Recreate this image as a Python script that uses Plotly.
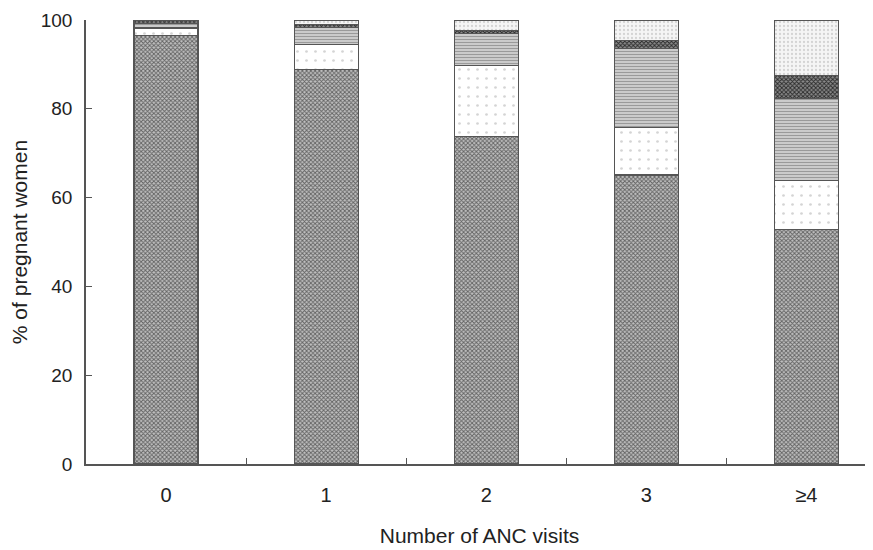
import plotly.graph_objects as go

categories = ["0", "1", "2", "3", "≥4"]

# stacked segments, bottom to top (% of pregnant women)
seg1 = [96.6, 88.9, 73.7, 65.1, 52.9]
seg2 = [1.6, 5.6, 16.0, 10.6, 10.9]
seg3 = [1.1, 3.9, 7.3, 17.9, 18.6]
seg4 = [0.7, 0.5, 0.7, 1.8, 5.1]
seg5 = [0.0, 1.1, 2.3, 4.6, 12.5]

series_names = ["Group 1", "Group 2", "Group 3", "Group 4", "Group 5"]
series_values = [seg1, seg2, seg3, seg4, seg5]

styles = [
    dict(shape="x", size=3, solidity=0.5, fgcolor="#626262", bgcolor="#c0c0c0"),
    dict(shape=".", size=9, solidity=0.07, fgcolor="#d4d4d4", bgcolor="#ffffff"),
    dict(shape="-", size=3, solidity=0.45, fgcolor="#9a9a9a", bgcolor="#d6d6d6"),
    dict(shape="x", size=3, solidity=0.5, fgcolor="#2a2a2a", bgcolor="#8a8a8a"),
    dict(shape=".", size=4, solidity=0.25, fgcolor="#d4d4d4", bgcolor="#f5f5f5"),
]

fig = go.Figure()
for name, vals, st in zip(series_names, series_values, styles):
    fig.add_trace(go.Bar(
        x=categories, y=vals, name=name, width=0.4,
        marker=dict(color=st["bgcolor"],
                    pattern=dict(fillmode="replace", **st),
                    line=dict(color="#555555", width=1.2)),
    ))

font = "Liberation Sans, Arial, sans-serif"
# the page body adds an 8px offset, so the figure is 8px smaller on each axis
fig.update_layout(
    barmode="stack",
    width=865, height=542,
    margin=dict(l=78, r=0, t=12, b=86),
    plot_bgcolor="white", paper_bgcolor="white",
    showlegend=False,
    font=dict(family=font, size=19, color="#222222"),
    xaxis=dict(
        type="category", range=[-0.5, 4.416], automargin=False,
        tickson="boundaries", ticks="inside", ticklen=6, tickcolor="#555555", tickwidth=1.2,
        showline=True, linecolor="#555555", linewidth=1.5,
        showgrid=False, zeroline=False,
        ticklabelstandoff=12, tickfont=dict(size=20),
        title=dict(text="Number of ANC visits", standoff=24, font=dict(size=21)),
    ),
    yaxis=dict(
        range=[0, 100], tickvals=[0, 20, 40, 60, 80, 100], automargin=False,
        ticks="inside", ticklen=6, tickcolor="#555555", tickwidth=1.2,
        showline=True, linecolor="#555555", linewidth=1.5,
        showgrid=False, zeroline=False,
        ticklabelstandoff=8,
        title=dict(text="% of pregnant women", standoff=8, font=dict(size=21)),
    ),
)

fig.write_html("out.html")
